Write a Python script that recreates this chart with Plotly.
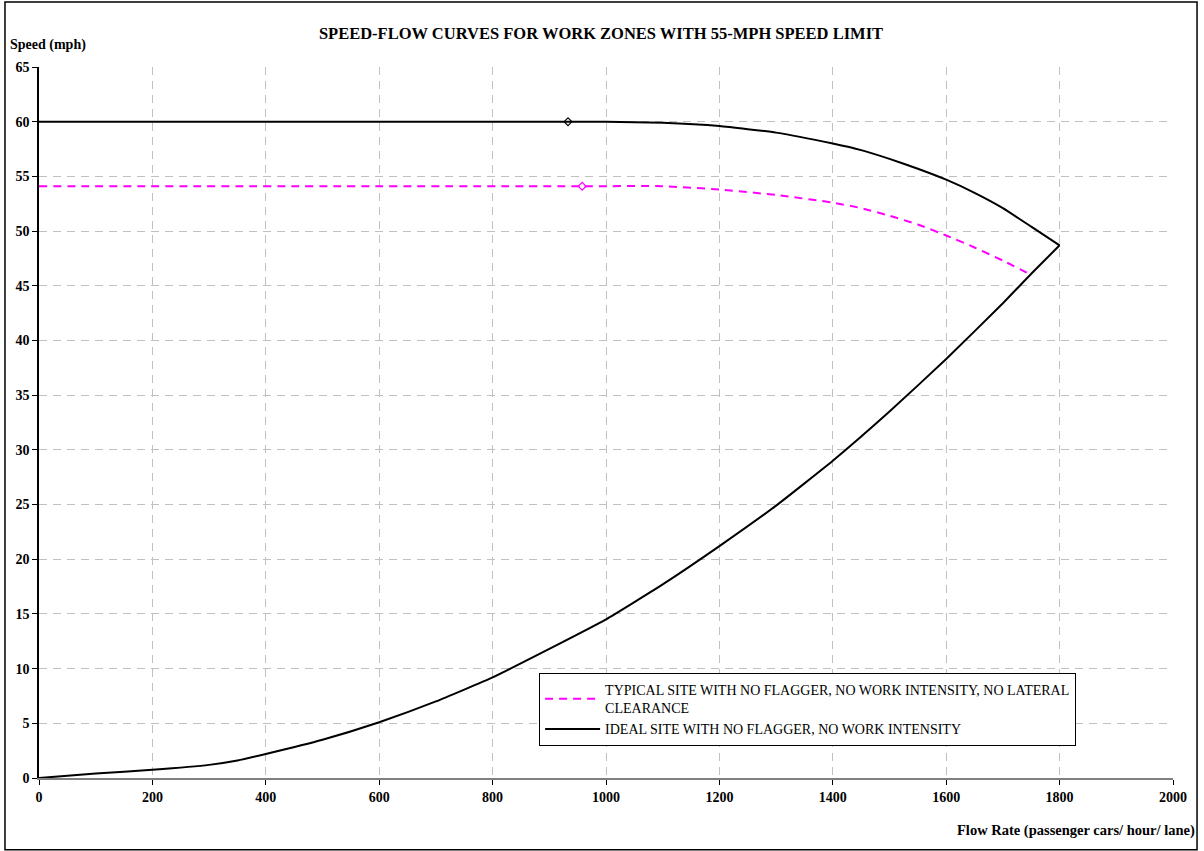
import plotly.graph_objects as go

# Ideal site: lower (congested) branch, flow ascending
ideal_low_flow = [0, 100, 200, 300, 350, 400, 500, 600, 700, 800, 900, 1000,
                  1100, 1200, 1300, 1400, 1500, 1600, 1700, 1750, 1800]
ideal_low_speed = [0.0, 0.4, 0.75, 1.2, 1.6, 2.2, 3.5, 5.1, 7.0, 9.2, 11.8, 14.5,
                   17.7, 21.2, 24.9, 29.0, 33.5, 38.3, 43.4, 46.1, 48.7]
# Ideal site: upper (free-flow) branch, flow descending from the capacity point
ideal_up_flow = [1800, 1750, 1700, 1650, 1600, 1550, 1500, 1450, 1400, 1300,
                 1200, 1100, 1000, 933, 0]
ideal_up_speed = [48.7, 50.4, 52.1, 53.5, 54.7, 55.7, 56.6, 57.4, 58.0, 59.0,
                  59.6, 59.9, 60.0, 60.0, 60.0]

# Typical site (no lateral clearance)
typ_flow = [0, 958, 1100, 1200, 1300, 1400, 1450, 1500, 1550, 1600, 1650, 1700, 1750]
typ_speed = [54.1, 54.1, 54.1, 53.8, 53.3, 52.6, 52.1, 51.4, 50.6, 49.6, 48.5, 47.3, 46.0]

# Breakpoint markers
ideal_mark_flow, ideal_mark_speed = [933], [60.0]
typ_mark_flow, typ_mark_speed = [958], [54.1]

x_ticks = list(range(0, 2001, 200))
y_ticks = list(range(0, 66, 5))

serif = "Liberation Serif, Times New Roman, serif"
ideal_line = dict(color="black", width=2, shape="spline", smoothing=0.4)

fig = go.Figure()
fig.add_trace(go.Scatter(
    x=typ_flow, y=typ_speed, mode="lines", legendgroup="typ",
    name="TYPICAL SITE WITH NO FLAGGER, NO WORK INTENSITY, NO LATERAL<br>CLEARANCE",
    line=dict(color="#FF00FF", width=2, dash="8px,6px", shape="spline", smoothing=0.5),
))
# Ideal curve drawn as two branches meeting at capacity, sharing one legend entry
fig.add_trace(go.Scatter(
    x=ideal_up_flow, y=ideal_up_speed, mode="lines", legendgroup="ideal",
    name="IDEAL SITE WITH NO FLAGGER, NO WORK INTENSITY", line=ideal_line,
))
fig.add_trace(go.Scatter(
    x=ideal_low_flow, y=ideal_low_speed, mode="lines", legendgroup="ideal",
    name="IDEAL SITE WITH NO FLAGGER, NO WORK INTENSITY", showlegend=False,
    line=ideal_line,
))
fig.add_trace(go.Scatter(
    x=typ_mark_flow, y=typ_mark_speed, mode="markers", showlegend=False,
    marker=dict(symbol="diamond-open", size=6, color="#FF00FF", line=dict(width=1.2)),
))
fig.add_trace(go.Scatter(
    x=ideal_mark_flow, y=ideal_mark_speed, mode="markers", showlegend=False,
    marker=dict(symbol="diamond-open", size=6, color="black", line=dict(width=1.2)),
))

axis_common = dict(
    showgrid=True, gridcolor="#C0C0C0", griddash="8px,6px", gridwidth=1,
    zeroline=False, ticks="outside", ticklen=5, tickwidth=1,
    tickfont=dict(family=serif, size=14, color="black", weight="bold"),
)
fig.update_xaxes(range=[0, 2000], tickvals=x_ticks, showline=True,
                 linecolor="#808080", linewidth=2, tickcolor="black", **axis_common)
fig.update_yaxes(range=[0, 65], tickvals=y_ticks, showline=True,
                 linecolor="black", linewidth=1.5, tickcolor="black", **axis_common)

fig.update_layout(
    width=1204, height=851,
    margin=dict(l=39, r=31, t=67, b=73),
    paper_bgcolor="white", plot_bgcolor="white",
    font=dict(family=serif, color="black"),
    title=dict(text="<b>SPEED-FLOW CURVES FOR WORK ZONES WITH 55-MPH SPEED LIMIT</b>",
               x=0.4956, xref="paper", xanchor="center",
               y=1 - 33 / 851, yanchor="middle",
               font=dict(family=serif, size=16.5, color="black")),
    legend=dict(x=0.441, y=0.1477, xanchor="left", yanchor="top",
                bgcolor="white", bordercolor="black", borderwidth=1,
                font=dict(family=serif, size=14, color="black"),
                tracegroupgap=0, itemwidth=55),
    showlegend=True,
)

fig.add_annotation(text="<b>Speed (mph)</b>", xref="paper", yref="paper",
                   x=-0.0273, y=1.031, xanchor="left", yanchor="middle",
                   showarrow=False, font=dict(family=serif, size=14, color="black"))
fig.add_annotation(text="<b>Flow Rate (passenger cars/ hour/ lane)</b>",
                   xref="paper", yref="paper", x=1.0212, y=-0.0745,
                   xanchor="right", yanchor="middle", showarrow=False,
                   font=dict(family=serif, size=14.5, color="black"))

# Outer chart frame
fig.add_shape(type="rect", xref="paper", yref="paper",
              x0=-0.030, x1=1.0212, y0=-0.101, y1=1.0914,
              line=dict(color="black", width=1.5), layer="above")

fig.write_html("out.html")
